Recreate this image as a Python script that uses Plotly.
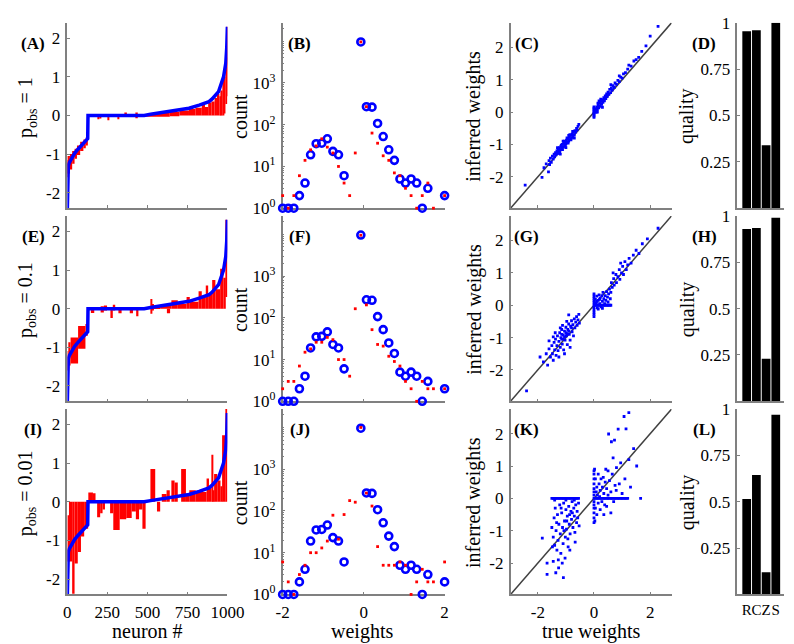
import plotly.graph_objects as go

W, H = 794, 644
FONT = "Liberation Serif, Times New Roman, Times, serif"

# ------------------------------------------------------------------ data
row_labels = ["p<sub>obs</sub> = 1", "p<sub>obs</sub> = 0.1", "p<sub>obs</sub> = 0.01"]
panel_letters = [["(A)", "(B)", "(C)", "(D)"],
                 ["(E)", "(F)", "(G)", "(H)"],
                 ["(I)", "(J)", "(K)", "(L)"]]

neuron_ticks = [0, 250, 500, 750, 1000]
weight_ticks1 = [-2, -1, 0, 1, 2]
weight_ticks2 = [-2, 0, 2]
count_ticks = [1, 10, 100, 1000]
count_ticktext = ["10<sup>0</sup>", "10<sup>1</sup>", "10<sup>2</sup>", "10<sup>3</sup>"]
quality_ticks = [0.25, 0.5, 0.75, 1]
methods = ["R", "C", "Z", "S"]

# sorted true weights (blue line, same in every row)
true_sorted_x = [0, 1, 3, 6, 12, 25, 45, 65, 85, 105, 120, 127, 129, 300, 480, 520,
                 600, 680, 760, 824, 885, 905, 945, 976, 990, 996, 1000]
true_sorted_y = [-2.4, -1.9, -1.45, -1.3, -1.22, -1.12, -0.98, -0.88, -0.79, -0.7, -0.64,
                 -0.6, 0, 0, 0, 0.03, 0.08, 0.13, 0.19, 0.27, 0.36, 0.43, 0.62, 1.0, 1.35,
                 1.75, 2.3]

# inferred weights in the same neuron order: (from, to, low, high)
inferred_A = [
    (0, 4, -1.6, -1.15), (4, 16, -1.5, -1.05), (16, 30, -1.4, -1.0), (30, 45, -1.25, -0.92),
    (45, 60, -1.12, -0.86), (60, 80, -1.02, -0.78), (80, 100, -0.92, -0.68),
    (100, 115, -0.85, -0.62), (115, 128, -0.78, -0.56),
    (188, 196, -0.1, 0.0), (205, 212, -0.08, 0.0), (250, 260, -0.12, 0.0),
    (315, 325, -0.1, 0.02), (362, 372, -0.02, 0.08), (430, 440, -0.07, 0.08),
    (480, 560, -0.03, 0.04), (560, 640, -0.03, 0.07), (640, 700, -0.02, 0.1),
    (700, 760, 0.0, 0.13), (760, 800, 0.0, 0.17), (800, 840, 0.0, 0.2),
    (840, 860, 0.0, 0.28), (860, 880, 0.0, 0.22), (880, 900, 0.0, 0.33),
    (900, 920, 0.0, 0.36), (920, 935, 0.0, 0.45), (935, 950, 0.0, 0.56),
    (950, 960, 0.0, 0.5), (960, 970, 0.0, 0.65), (970, 980, 0.0, 0.92),
    (980, 988, 0.05, 1.0), (988, 994, 0.3, 1.5), (994, 1000, 0.5, 2.3),
]
inferred_E = [
    (0, 6, -1.6, -1.1), (6, 20, -1.47, -0.87), (20, 67, -1.42, -0.75),
    (67, 113, -1.04, -0.45), (113, 128, -0.7, -0.4),
    (147, 168, -0.11, 0.02), (208, 228, -0.1, 0.06), (228, 248, -0.05, 0.08),
    (269, 284, -0.24, 0.0), (284, 299, -0.05, 0.1), (319, 339, -0.12, 0.0),
    (390, 410, -0.12, 0.0), (430, 444, -0.2, 0.0), (521, 531, -0.13, 0.25),
    (531, 541, -0.05, 0.12), (622, 642, -0.12, 0.0),
    (480, 580, 0.0, 0.04), (580, 650, 0.0, 0.07), (650, 690, 0.0, 0.22),
    (690, 745, 0.0, 0.12), (745, 765, 0.0, 0.3), (765, 820, 0.0, 0.18),
    (820, 840, 0.0, 0.45), (840, 865, 0.0, 0.3), (865, 880, 0.0, 0.6),
    (880, 905, 0.0, 0.4), (905, 925, 0.0, 0.74), (925, 955, 0.0, 0.5),
    (955, 975, 0.0, 1.03), (975, 990, 0.0, 0.8), (990, 1000, 0.3, 2.3),
]
inferred_I = [
    (0, 10, -1.55, -0.35), (10, 30, -1.55, 0.0), (30, 45, -2.38, 0.0),
    (45, 65, -1.6, 0.0), (65, 85, -1.3, 0.0), (85, 105, -0.9, 0.0), (105, 130, -0.7, 0.0),
    (131, 160, 0.0, 0.24), (160, 176, 0.0, 0.22), (186, 205, -0.4, 0.0),
    (205, 220, -0.3, 0.0), (220, 235, -0.2, 0.0), (267, 287, -0.3, 0.0),
    (287, 327, -0.73, 0.0), (327, 368, -0.45, 0.0), (368, 402, -0.42, 0.0),
    (402, 428, -0.25, 0.0), (428, 448, -0.45, 0.0), (448, 469, -0.2, 0.0),
    (469, 489, -0.7, 0.0), (519, 549, 0.0, 0.85), (560, 580, -0.25, 0.0),
    (590, 620, 0.0, 0.2), (620, 640, 0.0, 0.3), (650, 670, 0.0, 0.55),
    (670, 690, 0.0, 0.5), (711, 741, 0.0, 0.85), (741, 762, 0.0, 0.2),
    (762, 802, 0.0, 0.3), (802, 870, 0.0, 0.25), (870, 885, 0.0, 0.6),
    (885, 900, 0.0, 0.35), (900, 910, 0.0, 1.22), (910, 917, 0.0, 0.3),
    (917, 937, 0.0, 0.72), (937, 957, 0.0, 0.55), (957, 967, 0.0, 0.4),
    (967, 988, 0.0, 1.72), (988, 1000, 0.0, 2.4),
]
inferred_rows = [inferred_A, inferred_E, inferred_I]

# weight histograms
hist_bins = [-2.0, -1.862, -1.724, -1.586, -1.448, -1.310, -1.172, -1.034, -0.897, -0.759,
             -0.621, -0.483, -0.345, -0.207, -0.069, 0.069, 0.207, 0.345, 0.483, 0.621,
             0.759, 0.897, 1.034, 1.172, 1.310, 1.448, 1.586, 1.724, 1.862, 2.0]
hist_true = [1, 1, 1, 2, 4, 19, 35, 36, 46, 23, 19, 6, None, None, 9600, 270, 263, 107, 52,
             25, 14, 5, 4, 5, 4, 1, 3, None, None, 2]
hist_inf_B = [2, 1, 2, 6, 14, 25, 31, 46, 29, 21, 10, 4, 2, 21, 9600, 270, 63, 36, 18, 14,
              7, 6, 3, 2, 1, 2, 4, 1, None, 2]
hist_inf_F = [2, 3, 3, 7, 15, 18, 26, 26, 34, 30, 10, 10, 4, 165, 9500, 204, 52, 23, 21, 12,
              9, 7, 3, 2, 1, 3, 2, 2, None, 2]
hist_inf_J = [6, 2, 1, 3, 5, 10, 10, 13, 19, 79, 21, 82, 177, 162, 10000, 268, 131, 14, 5, 5,
              5, 6, 5, 1, 2, 4, 2, 2, None, 6]
hist_inf_rows = [hist_inf_B, hist_inf_F, hist_inf_J]

# true vs inferred weights (true, inferred)
scatter_C = [
    (-2.45, -2.26), (-1.85, -2.02), (-1.78, -1.72), (-1.7, -1.6), (-1.62, -1.85), (-1.6, -1.5),
    (-1.58, -1.62), (-1.55, -1.42), (-1.52, -1.55), (-1.48, -1.36), (-1.45, -1.45),
    (-1.42, -1.3), (-1.4, -1.38), (-1.37, -1.25), (-1.35, -1.32), (-1.32, -1.2), (-1.3, -1.28),
    (-1.3, -1.1), (-1.28, -1.15), (-1.25, -1.22), (-1.23, -1.1), (-1.2, -1.17), (-1.2, -1.3),
    (-1.18, -1.05), (-1.15, -1.12), (-1.13, -1.0), (-1.1, -1.08), (-1.1, -0.9), (-1.08, -0.96),
    (-1.05, -1.03), (-1.03, -0.92), (-1.0, -0.98), (-1.0, -1.1), (-0.98, -0.87), (-0.95, -0.94),
    (-0.93, -0.82), (-0.9, -0.9), (-0.9, -0.72), (-0.88, -0.78), (-0.85, -0.85), (-0.83, -0.72),
    (-0.8, -0.8), (-0.78, -0.68), (-0.75, -0.75), (-0.73, -0.62), (-0.7, -0.7), (-0.7, -0.8),
    (-0.68, -0.57), (-0.65, -0.62), (-0.62, -0.5), (-0.6, -0.55), (-0.57, -0.44), (-0.54, -0.38),
    (-1.26, -1.16), (-1.16, -1.02), (-1.06, -0.9), (-0.96, -0.8), (-0.86, -0.7), (-0.76, -0.6),
    (-1.22, -1.25), (-1.12, -1.16), (-1.02, -1.06), (-0.92, -0.96), (-0.82, -0.86),
    (0, -0.16), (0, -0.12), (0, -0.08), (0, -0.04), (0, 0), (0, 0.04), (0, 0.08), (0, 0.12),
    (0, 0.16), (0.04, 0), (0.08, 0), (0.12, 0), (0.02, 0.02),
    (0.05, 0.1), (0.08, 0.02), (0.1, 0.16), (0.12, 0.08), (0.15, 0.22), (0.17, 0.13), (0.18, 0.35),
    (0.2, 0.28), (0.22, 0.18), (0.25, 0.33), (0.27, 0.24), (0.3, 0.38), (0.3, 0.15), (0.32, 0.3),
    (0.35, 0.45), (0.37, 0.35), (0.4, 0.5), (0.42, 0.42), (0.45, 0.56), (0.47, 0.48),
    (0.5, 0.62), (0.53, 0.55), (0.56, 0.7), (0.59, 0.6), (0.6, 0.85), (0.62, 0.75), (0.65, 0.68),
    (0.68, 0.82), (0.72, 0.76), (0.75, 0.9), (0.8, 0.86), (0.85, 0.98), (0.9, 0.94), (0.9, 1.12),
    (0.95, 1.08), (1.0, 1.05), (1.05, 1.18), (1.12, 1.22), (1.2, 1.33), (1.24, 1.45),
    (1.32, 1.42), (1.42, 1.58), (1.5, 1.62), (1.59, 1.69), (1.7, 1.88), (1.85, 2.05),
    (2.0, 2.35), (2.28, 2.65), (0.14, 0.28), (0.24, 0.4), (0.34, 0.38), (0.44, 0.5),
]
scatter_G = [
    (-2.4, -2.65), (-1.92, -1.6), (-1.8, -1.75), (-1.7, -1.5), (-1.65, -1.85), (-1.6, -1.35),
    (-1.6, -1.1), (-1.55, -1.6), (-1.5, -1.25), (-1.48, -1.5), (-1.45, -1.7), (-1.45, -0.98),
    (-1.42, -1.15), (-1.4, -1.38), (-1.38, -0.85), (-1.37, -1.05), (-1.35, -1.55), (-1.32, -1.25),
    (-1.3, -0.95), (-1.28, -1.4), (-1.25, -1.12), (-1.25, -1.6), (-1.22, -0.85), (-1.2, -1.3),
    (-1.2, -0.7), (-1.18, -1.0), (-1.15, -0.75), (-1.15, -1.05), (-1.13, -1.2), (-1.12, -0.62),
    (-1.1, -0.92), (-1.08, -1.38), (-1.05, -0.8), (-1.05, -1.5), (-1.03, -1.08), (-1.0, -0.68),
    (-1.0, -0.85), (-0.98, -0.95), (-0.97, -0.5), (-0.95, -1.22), (-0.93, -0.75), (-0.9, -0.58),
    (-0.9, -0.3), (-0.88, -0.9), (-0.85, -1.08), (-0.85, -1.3), (-0.83, -0.65), (-0.8, -0.48),
    (-0.8, -0.7), (-0.78, -0.82), (-0.75, -0.6), (-0.73, -0.95), (-0.7, -0.42), (-0.68, -0.7),
    (-0.65, -0.52), (-0.62, -0.35), (-0.6, -0.62), (-0.57, -0.45), (-0.54, -0.28), (-0.52, -0.55),
    (-1.1, -1.05), (-1.0, -0.95), (-0.95, -0.88), (-1.05, -0.98), (-0.9, -0.8), (-1.15, -0.9),
    (0, -0.35), (0, -0.28), (0, -0.21), (0, -0.14), (0, -0.07), (0, 0), (0, 0.07), (0, 0.14),
    (0, 0.21), (0, 0.28), (0, 0.35),
    (0.05, 0), (0.1, 0), (0.15, 0), (0.2, 0), (0.25, 0), (0.3, 0), (0.35, 0), (0.4, 0), (0.45, 0),
    (0.5, 0), (0.55, 0), (0.6, 0),
    (0.05, 0.18), (0.08, 0.08), (0.1, 0.28), (0.1, 0.12), (0.12, -0.08), (0.15, 0.15),
    (0.15, -0.12), (0.18, 0.32), (0.2, 0.05), (0.2, 0.18), (0.22, 0.22), (0.25, -0.05),
    (0.28, 0.3), (0.3, 0.12), (0.3, -0.1), (0.32, 0.4), (0.35, 0.2), (0.38, 0.05), (0.4, 0.3),
    (0.42, 0.15), (0.45, 0.42), (0.48, 0.25), (0.5, 0.1), (0.52, 0.35), (0.55, 0.5), (0.58, 0.2),
    (0.6, 0.4),
    (0.62, 0.7), (0.65, 0.55), (0.68, 1.0), (0.7, 0.82), (0.72, 0.62), (0.78, 0.95), (0.8, 0.7),
    (0.85, 0.88), (0.9, 1.1), (0.92, 0.8), (0.95, 1.3), (0.98, 1.0), (1.02, 1.2), (1.05, 0.95),
    (1.1, 1.35), (1.15, 1.1), (1.2, 1.25), (1.25, 1.45), (1.32, 1.3), (1.4, 1.55), (1.5, 1.7),
    (1.6, 1.6), (1.72, 1.9), (1.9, 2.05), (2.28, 2.38),
]
scatter_K = [
    (-1.84, -1.23), (-1.67, -2.0), (-1.67, -2.35), (-1.5, -0.9), (-1.48, -1.5), (-1.45, -1.95),
    (-1.45, -1.2), (-1.42, -0.6), (-1.4, -1.45), (-1.4, -0.05), (-1.38, -0.3), (-1.36, -2.3),
    (-1.35, -1.0), (-1.33, -0.75), (-1.32, -1.6), (-1.3, -0.5), (-1.28, -1.3), (-1.27, -1.9),
    (-1.26, -2.15), (-1.25, -0.8), (-1.22, -0.2), (-1.2, -1.1), (-1.18, -1.7), (-1.17, -0.3),
    (-1.15, -0.45), (-1.13, -2.0), (-1.12, -0.9), (-1.1, -1.4), (-1.09, -2.45), (-1.08, -0.15),
    (-1.07, -1.0), (-1.05, -0.7), (-1.03, -1.85), (-1.02, -1.2), (-1.0, -0.35), (-1.0, -0.05),
    (-0.98, -0.95), (-0.97, -0.7), (-0.95, -0.55), (-0.93, -1.25), (-0.92, -1.5), (-0.9, -0.25),
    (-0.88, -0.8), (-0.87, -0.5), (-0.86, -1.6), (-0.85, -1.1), (-0.82, -0.4), (-0.8, -0.65),
    (-0.78, -0.1), (-0.77, -0.45), (-0.75, -0.9), (-0.72, -0.3), (-0.7, -0.55), (-0.7, -0.05),
    (-0.68, -1.05), (-0.67, -1.35), (-0.65, -0.2), (-0.62, -0.75), (-0.6, -0.4), (-0.58, -0.6),
    (-0.55, -0.15), (-0.53, -0.85),
    (-1.5, 0), (-1.45, 0), (-1.4, 0), (-1.35, 0), (-1.3, 0), (-1.25, 0), (-1.2, 0), (-1.15, 0),
    (-1.1, 0), (-1.05, 0), (-1.0, 0), (-0.95, 0), (-0.9, 0), (-0.85, 0), (-0.8, 0), (-0.75, 0),
    (-0.7, 0), (-0.65, 0), (-0.6, 0), (-0.55, 0),
    (0, -0.75), (0, -0.6), (0, -0.45), (0, -0.3), (0, -0.2), (0, -0.1), (0, 0), (0, 0.1),
    (0, 0.2), (0, 0.3), (0, 0.45), (0, 0.6), (0, 0.75), (0, 0.85),
    (0.05, 0), (0.1, 0), (0.15, 0), (0.2, 0), (0.25, 0), (0.3, 0), (0.35, 0), (0.4, 0), (0.45, 0),
    (0.5, 0), (0.55, 0), (0.6, 0), (0.65, 0), (0.7, 0), (0.75, 0), (0.8, 0), (0.85, 0), (0.9, 0),
    (0.95, 0), (1.0, 0), (1.05, 0), (1.1, 0), (1.15, 0), (1.2, 0), (1.66, 0),
    (0.05, 0.6), (0.05, -0.3), (0.08, 0.2), (0.1, -0.5), (0.1, 0.35), (0.12, 0.1), (0.15, 0.75),
    (0.15, -0.15), (0.18, 0.45), (0.2, 0.05), (0.22, -0.35), (0.22, 0.25), (0.25, 0.6),
    (0.28, -0.1), (0.3, 0.35), (0.33, 0.65), (0.35, 0.15), (0.35, -0.5), (0.38, -0.2), (0.4, 0.5),
    (0.42, 0.9), (0.45, -0.25), (0.45, 0.3), (0.5, 0.85), (0.5, 0.1), (0.52, 1.99), (0.55, 0.55),
    (0.6, 0.2), (0.6, -0.45), (0.62, 1.75), (0.65, 0.75), (0.68, 1.25), (0.7, -0.1), (0.73, 1.8),
    (0.75, 0.4), (0.79, 0.25), (0.8, 0.95), (0.86, 2.14), (0.9, 0.45), (0.95, 1.1), (1.0, 0.15),
    (1.07, 2.53), (1.1, 0.6), (1.14, 2.15), (1.24, 1.2), (1.24, 2.65), (1.3, 0.35), (1.41, 1.54),
    (1.52, 1.0), (0.03, -0.7), (0.02, 0.9),
]
scatter_rows = [scatter_C, scatter_G, scatter_K]

quality_rows = [[0.955, 0.96, 0.34, 1.0],
                [0.93, 0.935, 0.23, 0.99],
                [0.515, 0.645, 0.12, 0.97]]

# ------------------------------------------------------------------ layout helpers
col_px = [(54, 219), (276, 443), (511, 677), (745, 793)]
row_py = [(6, 197), (205, 396), (404, 595)]
ROW_STEP = 199

def fx(px):
    return px / W

def fy(py):
    return 1 - py / H

BLUE = "#0000ff"
RED = "#ff0000"
AXC = "#808080"
W_RANGE = [-2.97, 2.76]

fig = go.Figure()
layout = dict(width=W, height=H, margin=dict(l=0, r=0, t=0, b=0),
              paper_bgcolor="white", plot_bgcolor="white", showlegend=False,
              barmode="overlay", annotations=[], font=dict(family=FONT, color="black"))

tickfont = dict(family=FONT, size=17, color="black")

def axis_common():
    return dict(showgrid=False, zeroline=False, showline=True, linecolor=AXC, linewidth=1.5,
                ticks="inside", ticklen=3, tickcolor=AXC, tickwidth=1, tickfont=tickfont,
                fixedrange=True)

for r in range(3):
    bottom = (r == 2)
    for c in range(4):
        k = r * 4 + c + 1
        xa = "x" if k == 1 else f"x{k}"
        ya = "y" if k == 1 else f"y{k}"
        xkey = "xaxis" if k == 1 else f"xaxis{k}"
        ykey = "yaxis" if k == 1 else f"yaxis{k}"
        xd = [fx(col_px[c][0]), fx(col_px[c][1])]
        yd = [fy(row_py[r][1]), fy(row_py[r][0])]
        xax = axis_common(); yax = axis_common()
        xax.update(domain=xd, anchor=ya, tickangle=0, ticklabelstandoff=1)
        yax.update(domain=yd, anchor=xa, ticklabelstandoff=2)

        if c == 0:
            xax.update(range=[0, 1000], tickmode="array", tickvals=neuron_ticks,
                       ticktext=[str(v) for v in neuron_ticks], showticklabels=bottom)
            yax.update(range=[-2.4, 2.4], tickmode="array", tickvals=weight_ticks1,
                       ticktext=[str(v) for v in weight_ticks1])
            segs = inferred_rows[r]
            fig.add_trace(go.Bar(
                x=[(a + b) / 2 for a, b, lo, hi in segs],
                y=[hi - lo for a, b, lo, hi in segs],
                base=[lo for a, b, lo, hi in segs],
                width=[b - a for a, b, lo, hi in segs],
                marker=dict(color=RED, line=dict(width=0)),
                xaxis=xa, yaxis=ya, hoverinfo="skip"))
            fig.add_trace(go.Scatter(x=true_sorted_x, y=true_sorted_y, mode="lines",
                                     line=dict(color=BLUE, width=3.5),
                                     xaxis=xa, yaxis=ya, hoverinfo="skip"))
        elif c == 1:
            xax.update(range=[-2, 2], tickmode="array", tickvals=weight_ticks2,
                       ticktext=[str(v) for v in weight_ticks2], showticklabels=bottom,
                       layer="below traces")
            yax.update(type="log", range=[0, 4.44], tickmode="array", tickvals=count_ticks,
                       ticktext=count_ticktext, layer="below traces",
                       minor=dict(ticks="inside", ticklen=2, tickcolor=AXC, dtick="D1"))
            fig.add_trace(go.Scatter(x=hist_bins, y=hist_true, mode="markers",
                                     marker=dict(symbol="circle-open", size=7, color=BLUE,
                                                 line=dict(width=2.6, color=BLUE)),
                                     cliponaxis=False, xaxis=xa, yaxis=ya, hoverinfo="skip"))
            fig.add_trace(go.Scatter(x=hist_bins, y=hist_inf_rows[r], mode="markers",
                                     marker=dict(symbol="square", size=2.8, color=RED),
                                     cliponaxis=False, xaxis=xa, yaxis=ya, hoverinfo="skip"))
        elif c == 2:
            xax.update(range=W_RANGE, tickmode="array", tickvals=weight_ticks2,
                       ticktext=[str(v) for v in weight_ticks2], showticklabels=bottom)
            yax.update(range=W_RANGE, tickmode="array", tickvals=weight_ticks1,
                       ticktext=[str(v) for v in weight_ticks1])
            fig.add_trace(go.Scatter(x=W_RANGE, y=W_RANGE, mode="lines",
                                     line=dict(color="#404040", width=1.5),
                                     xaxis=xa, yaxis=ya, hoverinfo="skip"))
            pts = scatter_rows[r]
            fig.add_trace(go.Scatter(x=[p[0] for p in pts], y=[p[1] for p in pts],
                                     mode="markers",
                                     marker=dict(symbol="square", size=2.8, color=BLUE),
                                     xaxis=xa, yaxis=ya, hoverinfo="skip"))
        else:
            xax.update(range=[0.05, 4.85], tickmode="array", tickvals=[1, 2, 3, 4],
                       ticktext=methods, showticklabels=bottom, ticks="",
                       tickfont=dict(family=FONT, size=15, color="black"))
            yax.update(range=[0, 1], tickmode="array", tickvals=quality_ticks,
                       ticktext=[str(v) for v in quality_ticks])
            fig.add_trace(go.Bar(x=[1, 2, 3, 4], y=quality_rows[r], width=0.9,
                                 marker=dict(color="black", line=dict(width=0)),
                                 xaxis=xa, yaxis=ya, hoverinfo="skip"))
        layout[xkey] = xax
        layout[ykey] = yax

# ------------------------------------------------------------------ text
ann = layout["annotations"]

def add_text(px, py, text, size=20, angle=0):
    ann.append(dict(x=fx(px), y=fy(py), xref="paper", yref="paper", text=text,
                    showarrow=False, xanchor="center", yanchor="middle", textangle=angle,
                    font=dict(family=FONT, size=size, color="black")))

label_px = [19, 293.5, 527.5, 710.5]
ytitle_px = [232, 473, 693]
ytitles = ["count", "inferred weights", "quality"]
for r in range(3):
    off = r * ROW_STEP
    add_text(12, 93 + off, row_labels[r], size=20, angle=-90)
    for i, t in enumerate(ytitles):
        add_text(ytitle_px[i], 102 + off, t, size=20, angle=-90)
    for c in range(4):
        add_text(label_px[c], 27 + off, "<b>" + panel_letters[r][c] + "</b>", size=17)

add_text(137, 633, "neuron #", size=20)
add_text(358, 633, "weights", size=20)
add_text(594, 633, "true weights", size=20)

fig.update_layout(**layout)
fig.write_html("out.html")
